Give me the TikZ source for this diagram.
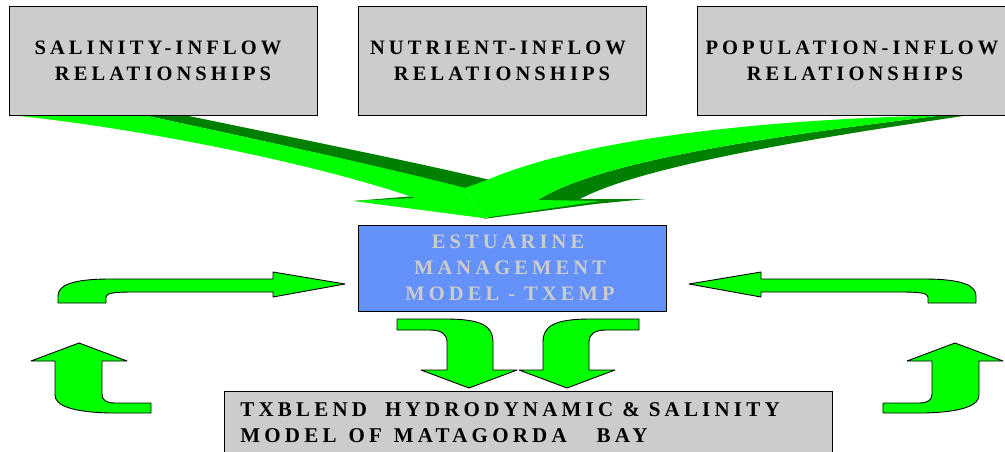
\documentclass[tikz,border=0pt]{standalone}
\usepackage{fontspec}
\setmainfont{Liberation Serif}
\newfontfamily\spfont[LetterSpace=20]{Liberation Serif}
\newcommand\wsp{\hspace{9pt}}
\definecolor{brightgreen}{RGB}{0,255,0}
\definecolor{darkgreen}{RGB}{0,128,0}
\definecolor{boxgray}{RGB}{204,204,204}
\definecolor{estblue}{RGB}{100,146,250}
\definecolor{esttext}{RGB}{204,204,204}
\begin{document}
\begin{tikzpicture}[x=1pt,y=-1pt,
  gbox/.style={draw=black, line width=0.8pt, fill=boxgray, inner sep=0pt,
    font={\spfont\bfseries\fontsize{20.5}{26}\selectfont}, align=center},
  blockarrow/.style={draw=black, line width=0.9pt, fill=brightgreen, line join=round},
  lightface/.style={fill=brightgreen},
  darkface/.style={fill=darkgreen}]
\useasboundingbox (0,0) rectangle (1005,451);
\clip (0,0) rectangle (1005,451);

% big merging arrows from the top boxes
\path[darkface] (143,115) -- (184,115) .. controls (280,135) and (420,163) .. (490,180)
  -- (465,189) .. controls (380,166) and (250,138) .. (143,115) -- cycle;
\path[darkface] (353,201) -- (415,196) -- (420,199) -- cycle;
\path[darkface] (945,115) -- (970,115) .. controls (800,140) and (640,167) .. (580,199)
  -- (646,199) -- (595,204) -- (483,219) -- (538,200)
  .. controls (600,160) and (780,135) .. (945,115) -- cycle;
\path[lightface] (20,116) .. controls (150,130) and (320,165) .. (415,198)
  -- (353,201) -- (483,218) -- (465,188)
  .. controls (380,166) and (250,138) .. (143,115) -- cycle;
\path[lightface] (487,180) .. controls (580,140) and (760,118) .. (965,115)
  -- (945,115) .. controls (780,135) and (600,160) .. (538,200)
  -- (600,201) -- (483,218) -- (465,188) -- cycle;

% boxes
\node[gbox, minimum width=308pt, minimum height=109pt] (sal) at (163,60.5)
  {SALINITY-INFLOW\kern10pt\\RELATIONSHIPS};
\node[gbox, minimum width=288pt, minimum height=109pt] (nut) at (502,60.5)
  {NUTRIENT-INFLOW\kern8pt\\RELATIONSHIPS};
\node[gbox, minimum width=316pt, minimum height=109pt] (pop) at (855,60.5)
  {POPULATION-INFLOW\kern6pt\\RELATIONSHIPS};
\node[gbox, fill=estblue, text=esttext, minimum width=308pt, minimum height=86pt] (emp) at (512,268)
  {ESTUARINE\kern8pt\\MANAGEMENT\kern4pt\\MODEL\wsp-\wsp TXEMP\kern4pt};
\node[gbox, anchor=north west, minimum height=62pt, text width=576pt, inner xsep=16pt, align=left,
  font={\spfont\bfseries\fontsize{21}{26}\selectfont}] (tx) at (224,391)
  {TXBLEND\wsp\wsp HYDRODYNAMIC\wsp\&\wsp SALINITY\\MODEL\hspace{12pt}OF\hspace{12pt}MATAGORDA\hspace{30pt}BAY};

% horizontal curved arrows
\draw[blockarrow] (273,272) -- (345,284) -- (273,297) -- (273,292) -- (133,292)
  .. controls (115,292) and (106,293) .. (106,297) -- (106,303) -- (58,303) -- (58,296)
  .. controls (58,286) and (70,279) .. (110,279) -- (273,279) -- cycle;
\begin{scope}[xshift=1034pt, xscale=-1]
\draw[blockarrow] (273,272) -- (345,284) -- (273,297) -- (273,292) -- (133,292)
  .. controls (115,292) and (106,293) .. (106,297) -- (106,303) -- (58,303) -- (58,296)
  .. controls (58,286) and (70,279) .. (110,279) -- (273,279) -- cycle;
\end{scope}

% upward curved arrows
\draw[blockarrow] (79,343) -- (127,361) -- (102,361) -- (102,394)
  .. controls (102,400) and (106,403) .. (115,403) -- (151,403) -- (151,413) -- (110,413)
  .. controls (70,412) and (55,405) .. (55,395) -- (55,361) -- (31,361) -- cycle;
\begin{scope}[xshift=1034pt, xscale=-1]
\draw[blockarrow] (79,343) -- (127,361) -- (102,361) -- (102,394)
  .. controls (102,400) and (106,403) .. (115,403) -- (151,403) -- (151,413) -- (110,413)
  .. controls (70,412) and (55,405) .. (55,395) -- (55,361) -- (31,361) -- cycle;
\end{scope}

% downward curved arrows
\draw[blockarrow] (397,319) -- (445,319) .. controls (482,319) and (493,326) .. (493,342)
  -- (493,370) -- (517,370) -- (469,388) -- (421,370) -- (447,370) -- (447,342)
  .. controls (447,334) and (441,330) .. (430,330) -- (397,330) -- cycle;
\begin{scope}[xshift=1036pt, xscale=-1]
\draw[blockarrow] (397,319) -- (445,319) .. controls (482,319) and (493,326) .. (493,342)
  -- (493,370) -- (517,370) -- (469,388) -- (421,370) -- (447,370) -- (447,342)
  .. controls (447,334) and (441,330) .. (430,330) -- (397,330) -- cycle;
\end{scope}
\end{tikzpicture}
\end{document}
